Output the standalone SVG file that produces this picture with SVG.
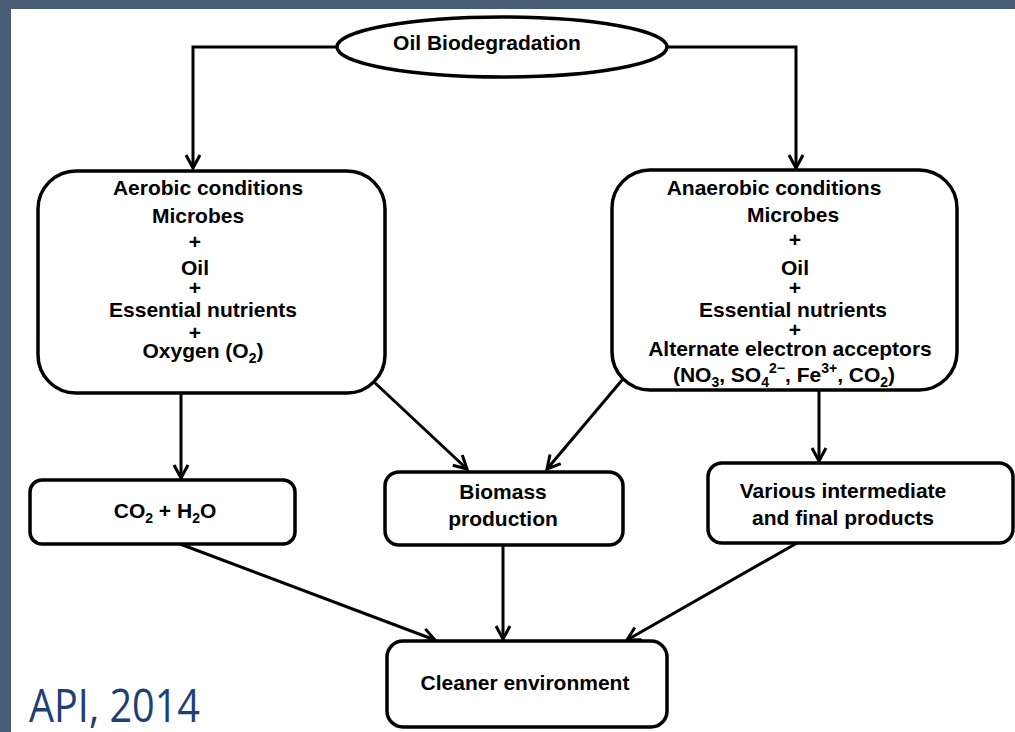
<svg xmlns="http://www.w3.org/2000/svg" width="1015" height="732" viewBox="0 0 1015 732">
  <style>
    .bg { fill: #ffffff; }
    .frame { fill: #475c75; }
    .box { fill: #ffffff; stroke: #000000; stroke-width: 3.5; }
    .conn { fill: none; stroke: #000000; stroke-width: 3; marker-end: url(#arr); }
    .t { font-family: "Liberation Sans", Arial, sans-serif; font-weight: bold; font-size: 21px; fill: #000000; text-anchor: middle; }
    .sub { font-size: 14px; }
    .cite { font-family: "Open Sans", "Liberation Sans", sans-serif; font-size: 45px; fill: #203f78; }
  </style>
  <defs>
    <marker id="arr" markerUnits="userSpaceOnUse" markerWidth="20" markerHeight="20" refX="14" refY="8" orient="auto" overflow="visible">
      <path d="M1,1 L14,8 L1,15" fill="none" stroke="#000000" stroke-width="3" stroke-linejoin="miter"/>
    </marker>
  </defs>

  <rect class="bg" x="0" y="0" width="1015" height="732"/>
  <rect class="frame" x="0" y="0" width="1015" height="9"/>
  <rect class="frame" x="0" y="0" width="11" height="732"/>

  <g id="connectors">
    <polyline class="conn" points="337,47 193,47 193,168"/>
    <polyline class="conn" points="667,47 796,47 796,168"/>
    <line class="conn" x1="181" y1="393" x2="181" y2="478"/>
    <line class="conn" x1="374" y1="382" x2="467" y2="469"/>
    <line class="conn" x1="623" y1="379" x2="547" y2="469"/>
    <line class="conn" x1="819" y1="390" x2="819" y2="461"/>
    <line class="conn" x1="180" y1="544" x2="435" y2="640"/>
    <line class="conn" x1="503" y1="545" x2="503" y2="639"/>
    <line class="conn" x1="797" y1="543" x2="627" y2="640"/>
  </g>

  <g id="node-oil-biodegradation">
    <ellipse class="box" cx="502" cy="47" rx="165" ry="30"/>
    <text class="t" x="487" y="50">Oil Biodegradation</text>
  </g>

  <g id="node-aerobic">
    <rect class="box" x="38" y="171" width="347" height="222" rx="38" ry="38"/>
    <text class="t" x="208" y="195">Aerobic conditions</text>
    <text class="t" x="198" y="223">Microbes</text>
    <text class="t" x="195" y="249">+</text>
    <text class="t" x="195" y="275">Oil</text>
    <text class="t" x="195" y="295">+</text>
    <text class="t" x="203" y="317">Essential nutrients</text>
    <text class="t" x="195" y="340">+</text>
    <text class="t" x="203" y="358">Oxygen (O<tspan class="sub" dy="5">2</tspan><tspan dy="-5">)</tspan></text>
  </g>

  <g id="node-anaerobic">
    <rect class="box" x="612" y="170" width="345" height="220" rx="38" ry="38"/>
    <text class="t" x="774" y="195">Anaerobic conditions</text>
    <text class="t" x="793" y="222">Microbes</text>
    <text class="t" x="795" y="247">+</text>
    <text class="t" x="795" y="275">Oil</text>
    <text class="t" x="795" y="295">+</text>
    <text class="t" x="793" y="317">Essential nutrients</text>
    <text class="t" x="795" y="337">+</text>
    <text class="t" x="790" y="356">Alternate electron acceptors</text>
    <text class="t" x="784" y="382">(NO<tspan class="sub" dy="5">3</tspan><tspan dy="-5">, SO</tspan><tspan class="sub" dy="5">4</tspan><tspan class="sub" dy="-14">2−</tspan><tspan dy="9">, Fe</tspan><tspan class="sub" dy="-9">3+</tspan><tspan dy="9">, CO</tspan><tspan class="sub" dy="5">2</tspan><tspan dy="-5">)</tspan></text>
  </g>

  <g id="node-co2-h2o">
    <rect class="box" x="30" y="480" width="265" height="64" rx="12" ry="12"/>
    <text class="t" x="165" y="518">CO<tspan class="sub" dy="5">2</tspan><tspan dy="-5"> + H</tspan><tspan class="sub" dy="5">2</tspan><tspan dy="-5">O</tspan></text>
  </g>

  <g id="node-biomass">
    <rect class="box" x="385" y="472" width="238" height="73" rx="14" ry="14"/>
    <text class="t" x="503" y="499">Biomass</text>
    <text class="t" x="503" y="526">production</text>
  </g>

  <g id="node-various">
    <rect class="box" x="708" y="463" width="305" height="80" rx="14" ry="14"/>
    <text class="t" x="843" y="498">Various intermediate</text>
    <text class="t" x="843" y="525">and final products</text>
  </g>

  <g id="node-cleaner">
    <rect class="box" x="387" y="641" width="280" height="86" rx="16" ry="16"/>
    <text class="t" x="525" y="690">Cleaner environment</text>
  </g>

  <text class="cite" x="29" y="722" textLength="171" lengthAdjust="spacingAndGlyphs">API, 2014</text>
</svg>
